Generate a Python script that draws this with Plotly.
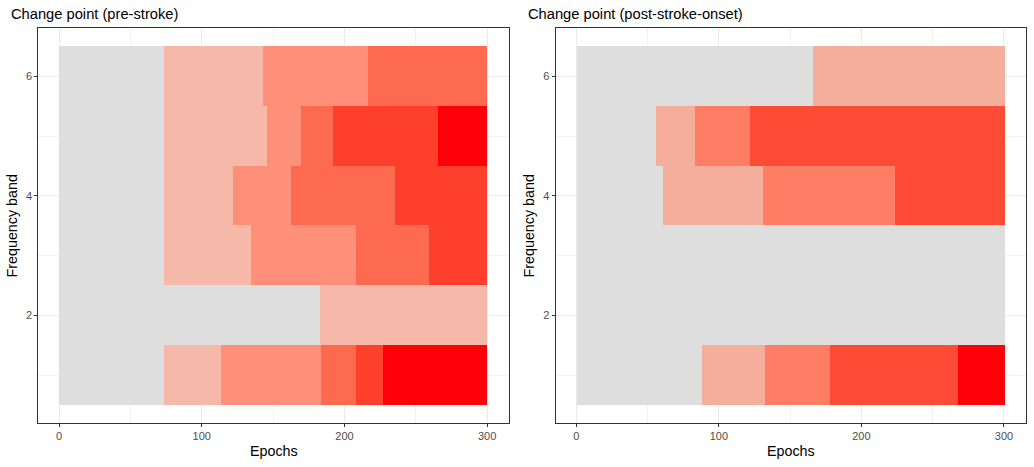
import plotly.graph_objects as go

# ==============================
# DATOS
# ==============================

N_EPOCHS = 300
BANDS = [1, 2, 3, 4, 5, 6]

# epocas donde cambia el nivel en cada banda, y nivel de cada tramo
PRE_CHANGES = {
    6: [73.5, 143.5, 216.5],
    5: [73.5, 146, 169.5, 192.5, 265.5],
    4: [73.5, 122.5, 162.5, 235.5],
    3: [73.5, 135, 208.5, 259.5],
    2: [183],
    1: [73.5, 113.5, 183.5, 208.5, 227.5],
}
PRE_LEVELS = {
    6: [0, 1, 2, 3],
    5: [0, 1, 2, 3, 4, 5],
    4: [0, 1, 2, 3, 4],
    3: [0, 1, 2, 3, 4],
    2: [0, 1],
    1: [0, 1, 2, 3, 4, 5],
}

POST_CHANGES = {
    6: [165.5],
    5: [55.5, 83, 121.5],
    4: [60.5, 130.5, 223],
    3: [],
    2: [],
    1: [88, 132, 177.5, 267.5],
}
POST_LEVELS = {
    6: [0, 1],
    5: [0, 1, 2, 3],
    4: [0, 1, 2, 3],
    3: [0],
    2: [0],
    1: [0, 1, 2, 3, 4],
}

PRE_COLORS = ["#DEDEDE", "#F5B8A9", "#FE9079", "#FE6A4F", "#FE3F2C", "#FF0008"]
POST_COLORS = ["#DEDEDE", "#F6AE9C", "#FD7E64", "#FE4B36", "#FF0008"]

TITLES = ["Change point (pre-stroke)", "Change point (post-stroke-onset)"]

FONT = "Liberation Sans, Arial, sans-serif"


# ==============================
# TRAZAS
# ==============================

def trazas_panel(changes, levels, colors, xaxis, yaxis):
    traces = []
    for lvl, color in enumerate(colors):
        ys, bases, lens = [], [], []
        for band in BANDS:
            edges = [0.5] + list(changes[band]) + [N_EPOCHS + 0.5]
            for i, l in enumerate(levels[band]):
                if l == lvl:
                    ys.append(band)
                    bases.append(edges[i])
                    lens.append(edges[i + 1] - edges[i])
        if not ys:
            continue
        traces.append(go.Bar(
            x=lens, y=ys, base=bases, orientation="h", width=1,
            marker=dict(color=color, line=dict(width=0)),
            xaxis=xaxis, yaxis=yaxis, showlegend=False, hoverinfo="skip",
        ))
    return traces


fig = go.Figure()
for t in trazas_panel(PRE_CHANGES, PRE_LEVELS, PRE_COLORS, "x", "y"):
    fig.add_trace(t)
for t in trazas_panel(POST_CHANGES, POST_LEVELS, POST_COLORS, "x2", "y2"):
    fig.add_trace(t)

# ==============================
# EJES Y ESTILO (theme_bw)
# ==============================

Y_DOM = [0.0936, 0.9394]
X_DOMS = [[0.0371, 0.4925], [0.5374, 0.9923]]

eje_comun = dict(
    showline=True, mirror=True, linecolor="#333333", linewidth=1,
    showgrid=True, gridcolor="#EBEBEB", gridwidth=1,
    ticks="outside", ticklen=3, tickcolor="#333333", tickwidth=1,
    tickfont=dict(family=FONT, size=11, color="#4D4D4D"),
    zeroline=False, fixedrange=True, automargin=False,
)

for i, dom in enumerate(X_DOMS):
    sfx = "" if i == 0 else str(i + 1)
    fig.layout["xaxis" + sfx] = dict(
        eje_comun, domain=dom, range=[-14.5, 315.5],
        tickvals=[0, 100, 200, 300],
        minor=dict(tickvals=[50, 150, 250], showgrid=True,
                   gridcolor="#F2F2F2", gridwidth=0.6, ticks=""),
        anchor="y" + sfx,
        title=dict(text="Epochs", font=dict(family=FONT, size=14.3, color="#000000"),
                   standoff=4),
    )
    fig.layout["yaxis" + sfx] = dict(
        eje_comun, domain=Y_DOM, range=[0.2, 6.8],
        tickvals=[2, 4, 6],
        minor=dict(tickvals=[1, 3, 5], showgrid=True,
                   gridcolor="#F2F2F2", gridwidth=0.6, ticks=""),
        anchor="x" + sfx,
        title=dict(text="Frequency band", font=dict(family=FONT, size=14.3, color="#000000"),
                   standoff=5),
    )

for i, txt in enumerate(TITLES):
    fig.add_annotation(
        text=txt, xref="paper", yref="paper",
        x=(9 if i == 0 else 526) / 1034, y=(467 - 14) / 467,
        xanchor="left", yanchor="middle", showarrow=False,
        font=dict(family=FONT, size=14.7, color="#000000"),
    )

fig.update_layout(
    width=1034, height=467,
    margin=dict(l=0, r=0, t=0, b=0),
    paper_bgcolor="white", plot_bgcolor="white",
    barmode="overlay", bargap=0,
)

# sin margen del body, para que la figura quede en (0, 0)
fig.write_html("out.html", config={"displayModeBar": False},
               post_script="document.body.style.margin='0';")
